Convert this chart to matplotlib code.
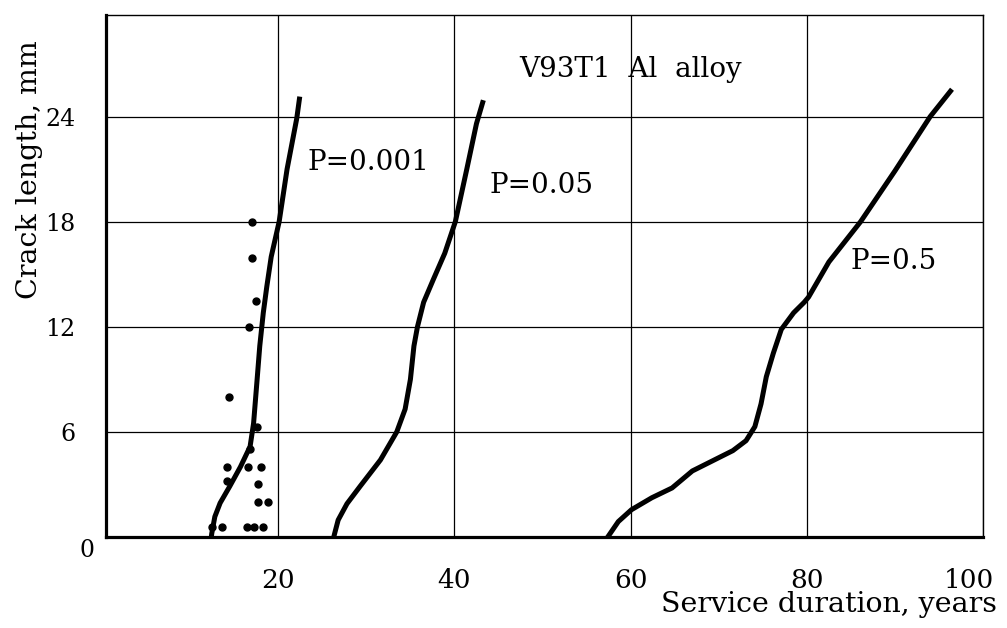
import matplotlib
matplotlib.use("Agg")
import matplotlib.pyplot as plt
import matplotlib.transforms as mtransforms

p001_x = [12.4, 12.45, 12.8, 13.4, 14.5, 15.7, 16.8, 17.2, 17.6, 17.9, 18.3, 18.7, 19.2, 20.1, 21.0, 22.1, 22.4]
p001_y = [0.0, 0.2, 1.16, 1.94, 2.9, 4.0, 5.16, 6.5, 9.0, 10.9, 12.8, 14.3, 16.0, 18.0, 21.0, 23.9, 25.0]

p005_x = [26.3, 26.4, 26.8, 27.8, 29.3, 31.6, 33.45, 34.4, 35.0, 35.4, 35.8, 36.5, 37.6, 38.9, 40.1, 41.4, 42.5, 43.2]
p005_y = [0.0, 0.2, 0.97, 1.9, 2.9, 4.4, 6.0, 7.3, 9.0, 10.9, 12.0, 13.4, 14.7, 16.2, 18.0, 21.0, 23.6, 24.8]

p05_x = [57.4, 58.6, 60.1, 62.4, 64.7, 67.0, 69.3, 71.6, 73.1, 74.1, 74.8, 75.4, 76.2, 77.1, 78.5, 79.7,
         80.2, 82.5, 86.1, 90.0, 94.0, 96.3]
p05_y = [0.0, 0.88, 1.56, 2.24, 2.8, 3.77, 4.35, 4.93, 5.5, 6.3, 7.6, 9.15, 10.5, 11.85, 12.8, 13.4,
         13.7, 15.7, 18.0, 20.9, 24.0, 25.45]

# test points
pts_x = [14.4, 17.6, 16.8, 14.2, 16.6, 18.0, 14.2, 17.7, 17.7, 18.8, 12.45, 13.6, 16.4, 17.25, 18.3,
         17.0, 17.0, 17.5, 16.7]
pts_y = [8.0, 6.3, 5.0, 4.0, 4.0, 4.0, 3.2, 3.0, 2.0, 2.0, 0.55, 0.55, 0.55, 0.55, 0.55,
         18.0, 15.9, 13.5, 12.0]

x_ticks = [20, 40, 60, 80, 100]
y_ticks = [6, 12, 18, 24]

plt.rcParams['font.family'] = ['DejaVu Serif']

fig = plt.figure(figsize=(10.07, 6.28), dpi=100)
ax = fig.add_axes([0.1053, 0.1449, 0.9762 - 0.1053, 0.9761 - 0.1449])

lw = 3.6
ax.plot(p001_x, p001_y, color='black', lw=lw, solid_joinstyle='round', zorder=3)
ax.plot(p005_x, p005_y, color='black', lw=lw, solid_joinstyle='round', zorder=3)
ax.plot(p05_x, p05_y, color='black', lw=lw, solid_joinstyle='round', zorder=3)
ax.plot(pts_x, pts_y, 'o', color='black', markersize=5, zorder=4)

ax.set_xlim(0.45, 100)
ax.set_ylim(0, 29.8)
ax.set_xticks(x_ticks)
ax.set_yticks(y_ticks)
ax.tick_params(axis='x', length=0, pad=22, labelsize=19)
ax.tick_params(axis='y', length=0, pad=22, labelsize=17)
ax.grid(True, color='black', lw=0.9)
ax.set_axisbelow(True)

# last x label sits a bit left in the original so it does not run off the page
last = ax.get_xticklabels()[-1]
last.set_transform(last.get_transform() + mtransforms.ScaledTranslation(-0.14, 0, fig.dpi_scale_trans))

for side in ['left', 'bottom']:
    ax.spines[side].set_linewidth(2.3)
for side in ['top', 'right']:
    ax.spines[side].set_linewidth(1.0)

ax.text(-1.7, -0.75, '0', fontsize=17, ha='center', va='center', clip_on=False)

ax.text(47.4, 26.7, 'V93T1  Al  alloy', fontsize=20, ha='left', va='center')
ax.text(23.3, 21.4, 'P=0.001', fontsize=20, ha='left', va='center')
ax.text(44.0, 20.06, 'P=0.05', fontsize=20, ha='left', va='center')
ax.text(84.9, 15.7, 'P=0.5', fontsize=20, ha='left', va='center')

fig.text(997 / 1007, 1 - 605 / 628, 'Service duration, years', fontsize=20.5, ha='right', va='center')
fig.text(30 / 1007, 1 - 170 / 628, 'Crack length, mm', fontsize=20.5, rotation=90, ha='center', va='center')

fig.savefig('out.png', dpi=100)
